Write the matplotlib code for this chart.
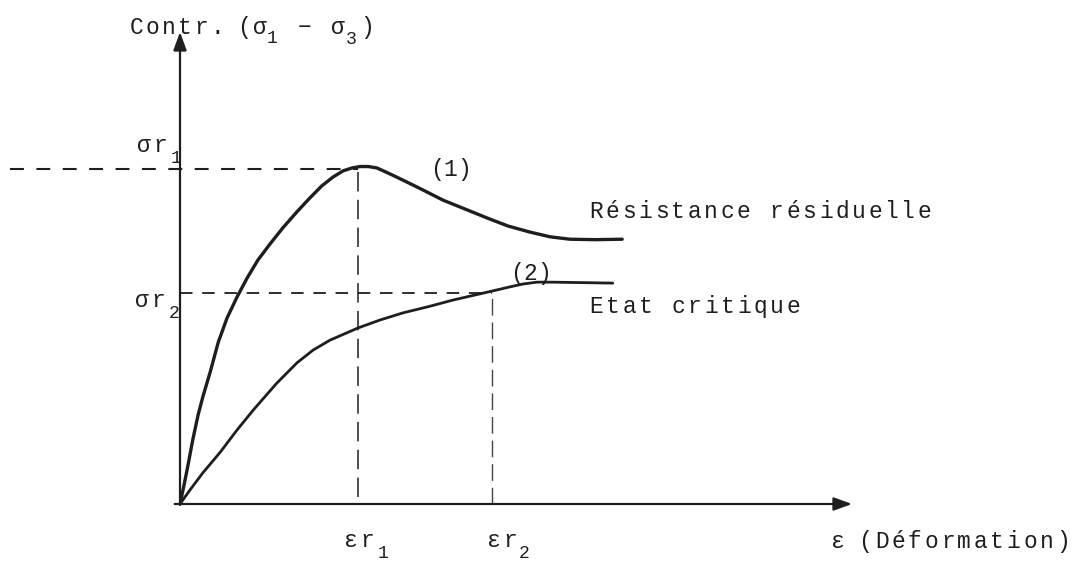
import matplotlib
matplotlib.use("Agg")
import matplotlib.pyplot as plt

plt.rcParams['font.family'] = ['Liberation Mono', 'DejaVu Sans Mono', 'DejaVu Sans']
plt.rcParams['lines.scale_dashes'] = False

# courbe (1) : pic puis resistance residuelle
eps_1 = [0.0, 0.06, 0.12, 0.19, 0.27, 0.34, 0.45, 0.57, 0.70, 0.85, 1.00, 1.16,
         1.34, 1.53, 1.74, 1.93, 2.11, 2.28, 2.43, 2.56, 2.68, 2.80, 2.93, 3.10,
         3.32, 3.62, 3.91, 4.24, 4.57, 4.88, 5.21, 5.51, 5.80, 6.18, 6.58]
sig_1 = [0.0, 0.40, 0.83, 1.36, 1.89, 2.27, 2.80, 3.43, 3.94, 4.39, 4.79, 5.17,
         5.51, 5.85, 6.19, 6.48, 6.74, 6.93, 7.06, 7.12, 7.15, 7.15, 7.12, 7.01,
         6.86, 6.65, 6.44, 6.25, 6.06, 5.89, 5.76, 5.66, 5.61, 5.60, 5.61]

# courbe (2) : etat critique
eps_2 = [0.0, 0.15, 0.34, 0.60, 0.85, 1.09, 1.44, 1.74, 1.98, 2.23, 2.65, 2.98,
         3.32, 3.72, 4.06, 4.64, 4.91, 5.10, 5.31, 5.55, 6.44]
sig_2 = [0.0, 0.30, 0.66, 1.10, 1.57, 1.99, 2.56, 2.99, 3.26, 3.47, 3.73, 3.90,
         4.05, 4.19, 4.32, 4.51, 4.60, 4.66, 4.70, 4.70, 4.68]

# valeurs de rupture
eps_r1, sig_r1 = 2.65, 7.10
eps_r2, sig_r2 = 4.64, 4.48

ink = '#1e1e1e'
W, H = 1074, 562

fig = plt.figure(figsize=(W / 100, H / 100), dpi=100)
# origine a (180, 504) px, 1 unite = 67.2 px en x et 47.2 px en y
ax = fig.add_axes([180 / W, (H - 504) / H, 672 / W, 472 / H])
ax.set_xlim(0, 10)
ax.set_ylim(0, 10)
ax.axis('off')

# axes avec fleches
head = dict(arrowstyle='-|>,head_length=0.55,head_width=0.2', mutation_scale=20,
            lw=1.6, color=ink, shrinkA=0, shrinkB=0)
ax.annotate('', xy=(10, 0), xytext=(-0.08, 0), arrowprops=head, annotation_clip=False)
ax.annotate('', xy=(0, 10), xytext=(0, -0.02), arrowprops=head, annotation_clip=False)

# courbes
ax.plot(eps_1, sig_1, color=ink, lw=2.4, solid_joinstyle='round', solid_capstyle='round')
ax.plot(eps_2, sig_2, color=ink, lw=2.0, solid_joinstyle='round', solid_capstyle='round')

# lignes de construction
ax.plot([-2.53, eps_r1], [sig_r1, sig_r1], color=ink, lw=1.5, dashes=(10, 9), clip_on=False)
ax.plot([eps_r1, eps_r1], [0.15, sig_r1], color=ink, lw=1.1, dashes=(14, 6))
ax.plot([0, eps_r2], [sig_r2, sig_r2], color=ink, lw=1.3, dashes=(9, 7))
ax.plot([eps_r2, eps_r2], [0, sig_r2], color='#444444', lw=1.0, dashes=(12, 5))


def txt(x, y, s, size=16.5, pitch=16.4):
    # machine a ecrire : un caractere par case de largeur fixe (pixels)
    for i, ch in enumerate(s):
        if ch == ' ':
            continue
        fig.text((x + (i + 0.5) * pitch) / W, 1 - y / H, ch, fontsize=size,
                 color=ink, ha='center', va='baseline')


# titre de l'axe vertical
txt(128, 34, 'Contr.', pitch=16.3)
txt(236, 34, '(σ', pitch=16.0)
txt(266, 43, '1', size=13, pitch=12)
txt(298, 34, '−', pitch=14)
txt(330, 34, 'σ', pitch=16)
txt(345, 44, '3', size=13, pitch=12)
txt(360, 34, ')', pitch=14)

# reperes des contraintes
txt(136, 152, 'σr')
txt(170, 163, '1', size=13, pitch=12)
txt(134, 307, 'σr')
txt(168, 318, '2', size=13, pitch=12)

# reperes des deformations
txt(343, 547, 'εr')
txt(377, 558, '1', size=13, pitch=12)
txt(486, 547, 'εr')
txt(518, 558, '2', size=13, pitch=12)
txt(830, 548, 'ε', pitch=16)
txt(857, 548, '(Déformation)', pitch=16.5)

# noms des courbes
txt(430, 176, '(1)', pitch=13.5)
txt(510, 280, '(2)', pitch=13.5)
txt(588, 218, 'Résistance résiduelle')
txt(588, 313, 'Etat critique')

fig.savefig('out.png', dpi=100, facecolor='white')
